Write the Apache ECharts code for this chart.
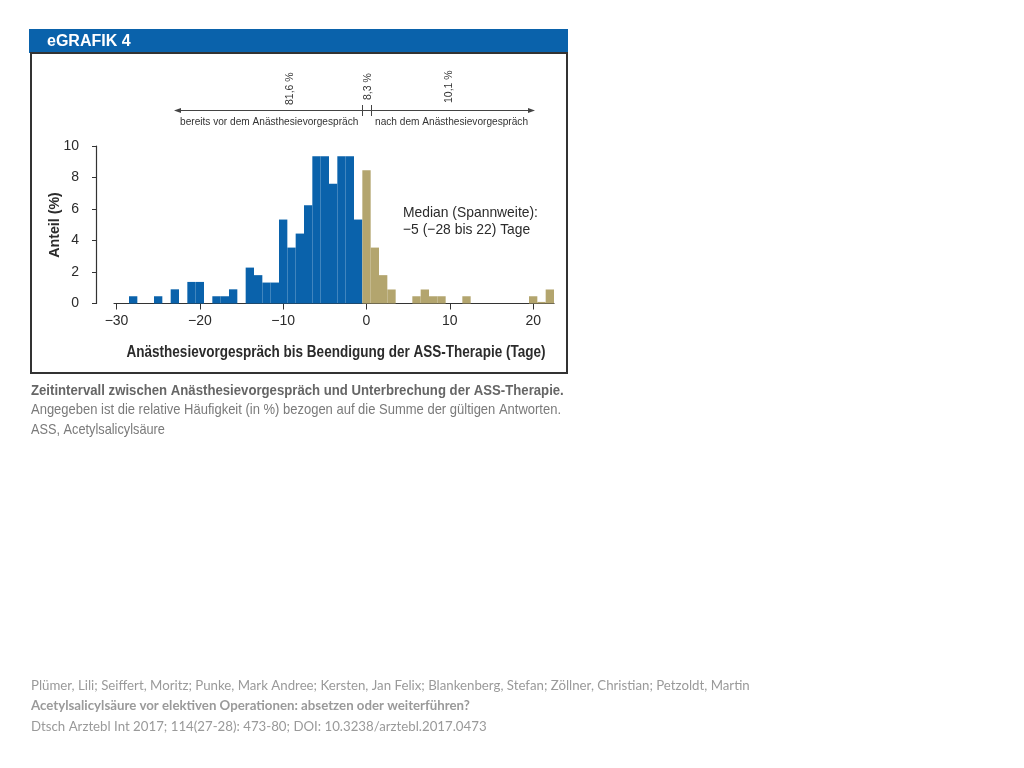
<!DOCTYPE html>
<html>
<head>
<meta charset="utf-8">
<script src="https://cdn.jsdelivr.net/npm/echarts@6/dist/echarts.min.js"></script>
<style>
html,body{margin:0;padding:0;background:#fff;}
#chart{width:1024px;height:768px;}
</style>
</head>
<body>
<div id="chart"></div>
<script>
// Days before the anaesthesia consultation (blue) and from day 0 on (tan), share in %
const beforeDays   = [-28, -25, -23, -21, -20, -18, -17, -16, -14, -13, -12, -11, -10, -9, -8, -7, -6, -5, -4, -3, -2, -1];
const beforeValues = [0.46, 0.46, 0.9, 1.37, 1.37, 0.46, 0.46, 0.9, 2.28, 1.8, 1.33, 1.33, 5.33, 3.55, 4.44, 6.24, 9.35, 9.35, 7.6, 9.35, 9.35, 5.33];
const afterDays    = [0, 1, 2, 3, 6, 7, 8, 9, 12, 20, 21, 22];
const afterValues  = [8.46, 3.55, 1.8, 0.89, 0.46, 0.89, 0.46, 0.46, 0.46, 0.46, 0.1, 0.89];
const xTickValues  = [-30, -20, -10, 0, 10, 20];
const yTickValues  = [0, 2, 4, 6, 8, 10];
const shareLabels  = ['81,6 %', '8,3 %', '10,1 %'];

const FONT = "'Liberation Sans', Arial, sans-serif";
const BLUE = '#0a62ab';
const TAN = '#b3a56e';

function barRenderer(color) {
  return function (params, api) {
    const d = api.value(0), v = api.value(1);
    const p0 = api.coord([d - 0.5, v]);
    const p1 = api.coord([d + 0.5, 0]);
    return {
      type: 'rect',
      shape: { x: p0[0], y: p0[1], width: p1[0] - p0[0], height: p1[1] - p0[1] },
      style: { fill: color }
    };
  };
}

const chart = echarts.init(document.getElementById('chart'), null, { renderer: 'canvas' });

const textCol = '#2b2b2b';
const CIT = "'Lato', 'Open Sans', sans-serif";
function txt(x, y, text, font, fill, sx, extra) {
  return Object.assign({ type: 'text', x: x, y: y, scaleX: sx || 1,
    style: { text: text, fill: fill, font: font, textVerticalAlign: 'middle' } }, extra || {});
}
const graphics = [
  { type: 'rect', shape: { x: 29, y: 29, width: 539, height: 24 }, style: { fill: BLUE }, z: 1 },
  txt(47, 42, 'eGRAFIK 4', "bold 16px " + FONT, '#fff', 1, { z: 2 }),
  { type: 'rect', shape: { x: 31, y: 53, width: 536, height: 320 }, style: { fill: 'none', stroke: '#333', lineWidth: 2 }, z: 1 },
  // arrow line
  { type: 'line', shape: { x1: 178, y1: 110.5, x2: 531, y2: 110.5 }, style: { stroke: '#444', lineWidth: 1 } },
  { type: 'polygon', shape: { points: [[174, 110.5], [181, 108], [181, 113]] }, style: { fill: '#444' } },
  { type: 'polygon', shape: { points: [[535, 110.5], [528, 108], [528, 113]] }, style: { fill: '#444' } },
  { type: 'line', shape: { x1: 362.5, y1: 105, x2: 362.5, y2: 116 }, style: { stroke: '#444', lineWidth: 1 } },
  { type: 'line', shape: { x1: 371.5, y1: 105, x2: 371.5, y2: 116 }, style: { stroke: '#444', lineWidth: 1 } },
  txt(180, 122, 'bereits vor dem Anästhesievorgespräch', "11px " + FONT, '#333', 0.92),
  txt(375, 122, 'nach dem Anästhesievorgespräch', "11px " + FONT, '#333', 0.92),
  { type: 'text', x: 290, y: 105, rotation: Math.PI / 2, style: { text: shareLabels[0], fill: '#333', font: "10.5px " + FONT, textAlign: 'left', textVerticalAlign: 'middle' } },
  { type: 'text', x: 368, y: 100, rotation: Math.PI / 2, style: { text: shareLabels[1], fill: '#333', font: "10.5px " + FONT, textAlign: 'left', textVerticalAlign: 'middle' } },
  { type: 'text', x: 449, y: 103, rotation: Math.PI / 2, style: { text: shareLabels[2], fill: '#333', font: "10.5px " + FONT, textAlign: 'left', textVerticalAlign: 'middle' } },
  // median note
  txt(403, 213, 'Median (Spannweite):', "15px " + FONT, textCol, 0.925),
  txt(403, 230, '\u22125 (\u221228 bis 22) Tage', "15px " + FONT, textCol, 0.925),
  // axis names
  txt(336, 353, 'Anästhesievorgespräch bis Beendigung der ASS-Therapie (Tage)', "bold 16px " + FONT, textCol, 0.845,
      { style: { text: 'Anästhesievorgespräch bis Beendigung der ASS-Therapie (Tage)', fill: textCol, font: "bold 16px " + FONT, textAlign: 'center', textVerticalAlign: 'middle' } }),
  { type: 'text', x: 55, y: 225, rotation: Math.PI / 2, scaleX: 0.95,
    style: { text: 'Anteil (%)', fill: textCol, font: "bold 15px " + FONT, textAlign: 'center', textVerticalAlign: 'middle' } },
  // caption
  txt(31, 391, 'Zeitintervall zwischen Anästhesievorgespräch und Unterbrechung der ASS-Therapie.', "bold 15px " + FONT, '#666', 0.878),
  txt(31, 410, 'Angegeben ist die relative Häufigkeit (in %) bezogen auf die Summe der gültigen Antworten.', "15px " + FONT, '#7a7a7a', 0.866),
  txt(31, 430, 'ASS, Acetylsalicylsäure', "15px " + FONT, '#7a7a7a', 0.85),
  // citation
  txt(31, 686, 'Plümer, Lili; Seiffert, Moritz; Punke, Mark Andree; Kersten, Jan Felix; Blankenberg, Stefan; Zöllner, Christian; Petzoldt, Martin', "13.25px " + CIT, '#9a9a9a'),
  txt(31, 706, 'Acetylsalicylsäure vor elektiven Operationen: absetzen oder weiterführen?', "bold 13.25px " + CIT, '#9a9a9a'),
  txt(31, 727, 'Dtsch Arztebl Int 2017; 114(27-28): 473-80; DOI: 10.3238/arztebl.2017.0473', "13.25px " + CIT, '#9a9a9a')
];

const option = {
  backgroundColor: '#fff',
  animation: false,
  grid: { left: 114, top: 146, width: 440, height: 157.5, containLabel: false },
  xAxis: {
    type: 'value', min: -30.3, max: 22.5,
    axisLine: { show: true, onZero: false, lineStyle: { color: '#333', width: 1.2 } },
    axisTick: { show: true, length: 6, customValues: xTickValues, lineStyle: { color: '#333' } },
    axisLabel: { customValues: xTickValues, margin: 11, color: textCol, fontSize: 14, fontFamily: FONT,
      formatter: v => String(v).replace('-', '\u2212') },
    splitLine: { show: false }
  },
  yAxis: {
    type: 'value', min: 0, max: 10, interval: 2, offset: 18,
    axisLine: { show: true, onZero: false, lineStyle: { color: '#333', width: 1.2 } },
    axisTick: { show: true, length: 4, lineStyle: { color: '#333' } },
    axisLabel: { margin: 17, color: textCol, fontSize: 14, fontFamily: FONT },
    splitLine: { show: false }
  },
  series: [
    { type: 'custom', renderItem: barRenderer(BLUE), data: beforeDays.map((d, i) => [d, beforeValues[i]]), clip: false },
    { type: 'custom', renderItem: barRenderer(TAN), data: afterDays.map((d, i) => [d, afterValues[i]]), clip: false }
  ],
  graphic: graphics
};
chart.setOption(option);
</script>
</body>
</html>
